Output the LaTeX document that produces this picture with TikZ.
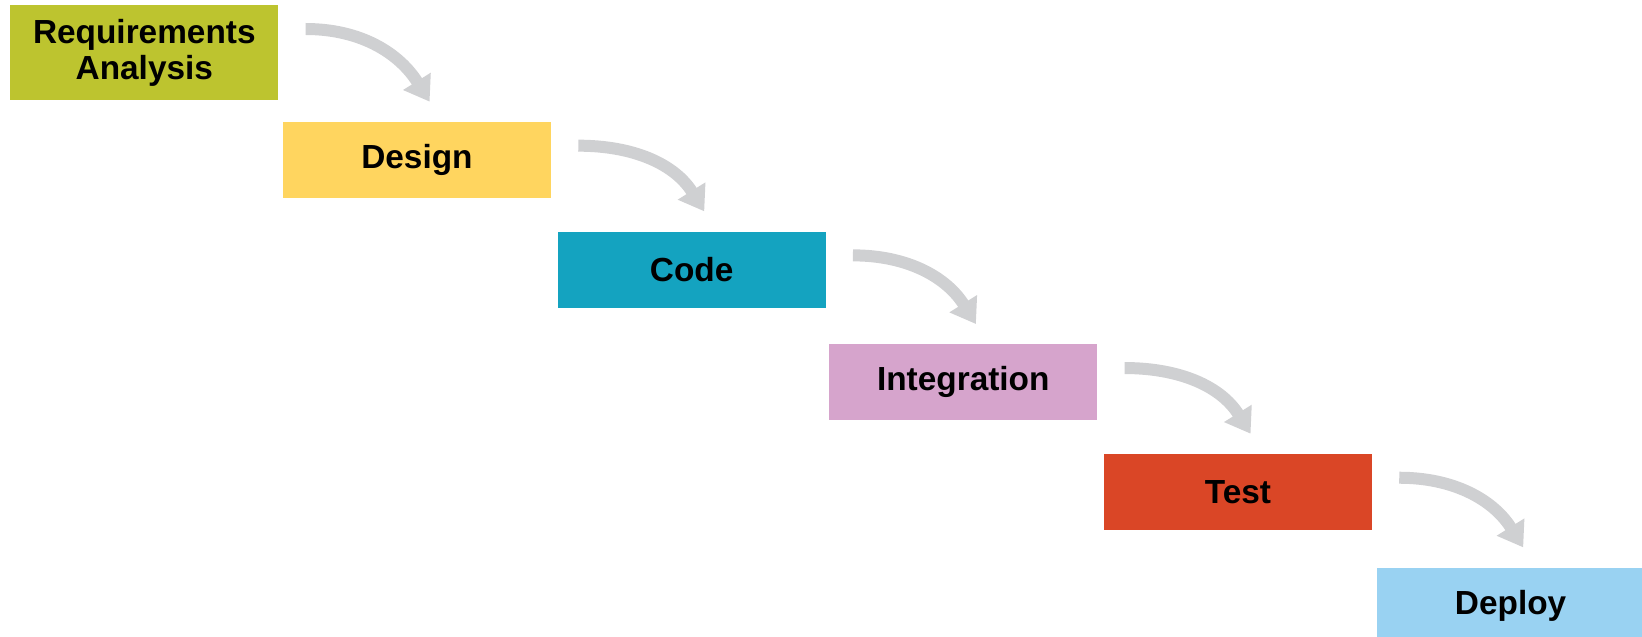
\documentclass[tikz,border=0pt]{standalone}
\usepackage{fontspec}
\setmainfont{Liberation Sans}
\usetikzlibrary{positioning, arrows.meta}

\definecolor{reqgreen}{HTML}{BDC42F}
\definecolor{desyellow}{HTML}{FFD55F}
\definecolor{codeteal}{HTML}{14A3C0}
\definecolor{intpink}{HTML}{D6A4CC}
\definecolor{testred}{HTML}{DA4626}
\definecolor{depblue}{HTML}{99D2F2}
\definecolor{flowgray}{HTML}{CFD0D2}

\begin{document}
\begin{tikzpicture}[x=0.02cm, y=-0.02cm,
  phase/.style={minimum width=5.36cm, minimum height=1.52cm, inner sep=0pt,
    align=center, font=\bfseries\fontsize{19}{20.5}\selectfont},
  flow/.style={draw=flowgray, line width=0.24cm,
    -{Triangle[width=0.62cm,length=0.48cm]}}]
\useasboundingbox (0,0) rectangle (1642,636);

% Phases
\node[phase, fill=reqgreen, minimum height=1.9cm, anchor=north west] (req) at (10,5) {Requirements\\Analysis};
\node[phase, fill=desyellow, below right=0.42cm and 0.08cm of req] (design) {Design};
\node[phase, fill=codeteal, below right=0.66cm and 0.12cm of design] (code) {Code};
\node[phase, fill=intpink, below right=0.72cm and 0.06cm of code] (integ) {Integration};
\node[phase, fill=testred, below right=0.66cm and 0.12cm of integ] (test) {Test};
\node[phase, fill=depblue, below right=0.74cm and 0.08cm of test] (deploy) {Deploy};

% Flow arrows
\foreach \a/\b in {req/design, design/code, code/integ, integ/test, test/deploy}
  \draw[flow] ([shift={(0.54cm,-0.48cm)}]\a.north east)
    to[out=0, in=122] ([shift={(2.94cm,0.4cm)}]\b.north west);
\end{tikzpicture}
\end{document}
